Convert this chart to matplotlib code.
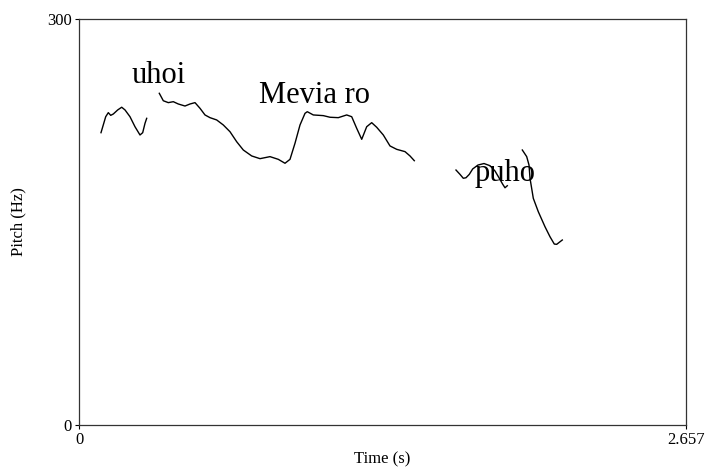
import matplotlib
matplotlib.use("Agg")
import matplotlib.pyplot as plt

plt.rcParams['font.family'] = ['Liberation Serif', 'DejaVu Serif']

# Pitch contour segments (time in s, pitch in Hz)
seg1_t = [0.0963, 0.1169, 0.1283, 0.1388, 0.1501, 0.1694, 0.1869, 0.2014, 0.2232,
          0.2451, 0.2670, 0.2788, 0.2889, 0.2963]
seg1_f = [216.0, 227.8, 230.8, 228.8, 229.8, 232.8, 234.8, 232.8, 227.8,
          220.4, 214.3, 216.0, 222.9, 226.6]

seg2_t = [0.3515, 0.3690, 0.3909, 0.4128, 0.4347, 0.4640, 0.4859, 0.5078, 0.5297,
          0.5515, 0.5734, 0.6027, 0.6316, 0.6610, 0.6903, 0.7192, 0.7560, 0.7923,
          0.8216, 0.8360, 0.8724, 0.9017, 0.9236, 0.9455, 0.9674, 0.9893, 0.9993,
          1.0256, 1.0694, 1.0987, 1.1350, 1.1718, 1.1937, 1.2156, 1.2375, 1.2593,
          1.2812, 1.3031, 1.3320, 1.3613, 1.3906, 1.4270, 1.4489, 1.4677]
seg2_f = [245.1, 239.6, 238.2, 238.9, 237.2, 235.7, 237.2, 238.2, 234.0,
          229.1, 227.1, 225.4, 221.7, 216.7, 209.3, 203.2, 198.8, 196.8,
          197.8, 198.3, 196.3, 193.4, 196.3, 208.2, 221.7, 230.3, 231.5,
          229.1, 228.6, 227.4, 227.1, 229.1, 227.8, 219.2, 211.1, 220.4,
          223.4, 220.0, 214.3, 206.2, 203.7, 202.0, 198.8, 195.3]

seg3_t = [1.6502, 1.6677, 1.6822, 1.6940, 1.7084, 1.7233, 1.7465, 1.7728, 1.7991,
          1.8209, 1.8398, 1.8547, 1.8647, 1.8748]
seg3_f = [188.4, 185.2, 182.3, 182.7, 185.2, 189.2, 192.1, 193.2, 191.6,
          187.7, 182.3, 177.9, 175.3, 176.8]

seg4_t = [1.9405, 1.9597, 1.9698, 1.9742, 1.9886, 2.0105, 2.0398, 2.0617, 2.0805,
          2.0910, 2.1055, 2.1155]
seg4_f = [203.2, 198.3, 192.1, 182.3, 167.5, 157.6, 146.5, 139.1, 133.7,
          133.5, 135.4, 136.7]

words = ["uhoi", "Mevia ro", "puho"]
word_t = [0.2307, 0.789, 1.730]
word_f = [252.5, 237.7, 180.3]

t_min, t_max = 0, 2.657
f_min, f_max = 0, 300
xtick_labels = ["0", "2.657"]
ytick_labels = ["0", "300"]

fig = plt.figure(figsize=(7.06, 4.70), dpi=100)
ax = fig.add_axes([79/706, 45/470, 607/706, 406/470])

for t, f in [(seg1_t, seg1_f), (seg2_t, seg2_f), (seg3_t, seg3_f), (seg4_t, seg4_f)]:
    ax.plot(t, f, color='black', linewidth=1.0, solid_joinstyle='round')

for w, t, f in zip(words, word_t, word_f):
    ax.text(t, f, w, fontsize=22, ha='left', va='baseline', color='black')

ax.set_xlim(t_min, t_max)
ax.set_ylim(f_min, f_max)
ax.set_xticks([t_min, t_max])
ax.set_xticklabels(xtick_labels)
ax.set_yticks([f_min, f_max])
ax.set_yticklabels(ytick_labels)
ax.tick_params(direction='out', length=3, width=0.8, labelsize=12, pad=2, colors='black')
for s in ax.spines.values():
    s.set_linewidth(0.9)
    s.set_color('#333333')

fig.text(382.5/706, 1 - 459/470, "Time (s)", fontsize=12, ha='center', va='center')
fig.text(18/706, 1 - 222/470, "Pitch (Hz)", fontsize=12, ha='center', va='center', rotation=90)

fig.savefig("out.png", dpi=100)
